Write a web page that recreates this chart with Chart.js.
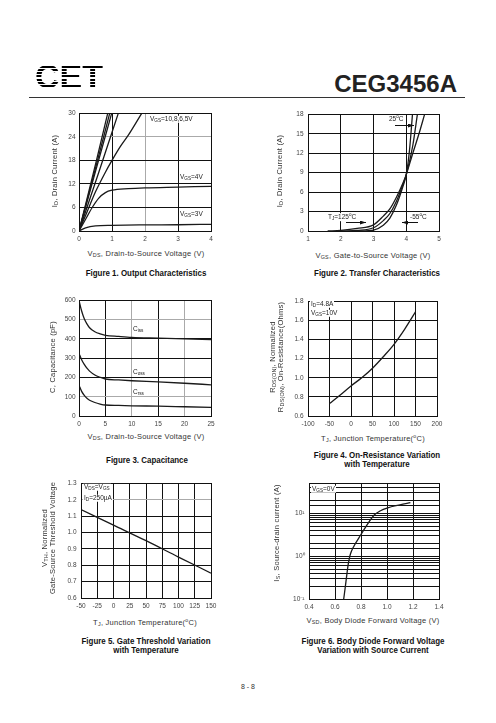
<!DOCTYPE html>
<html>
<head>
<meta charset="utf-8">
<script src="https://cdn.jsdelivr.net/npm/chart.js@4.4.0/dist/chart.umd.min.js"></script>
<style>
body{margin:0;background:#fff;width:496px;height:723px;position:relative;overflow:hidden;font-family:"Liberation Sans",Arial,sans-serif;color:#333}
canvas{position:absolute}
.t{position:absolute;white-space:nowrap;line-height:1;transform:translate(-50%,-50%)}
.ax{font-size:7.5px;letter-spacing:.25px;color:#333}
.yt{transform:translate(-50%,-50%) rotate(-90deg)}
.cap{font-weight:bold;font-size:9px;color:#111;transform:translate(-50%,-50%) scaleX(.88)}
.lb{position:absolute;font-size:6.5px;line-height:1;background:#fff;white-space:nowrap;color:#222;transform:translateY(-50%);padding:0 1px}
sub{font-size:72%;vertical-align:-1px;line-height:0}
#logo{position:absolute;left:35px;top:59px;font:bold 34px/34px "Liberation Sans",Arial,sans-serif;color:transparent;
  background:repeating-linear-gradient(to bottom,#000 0 2px,transparent 2px 3.3px);-webkit-background-clip:text;background-clip:text}
#part{position:absolute;right:39px;top:72px;font:bold 24px/24px "Liberation Sans",Arial,sans-serif;color:#222}
#rule{position:absolute;left:29px;top:97px;width:436px;height:1px;background:#333}
</style>
</head>
<body>
<div id="logo">CET</div>
<div id="part">CEG3456A</div>
<div id="rule"></div>

<canvas id="c1"></canvas>
<canvas id="c2"></canvas>
<canvas id="c3"></canvas>
<canvas id="c4"></canvas>
<canvas id="c5"></canvas>
<canvas id="c6"></canvas>

<!-- figure 1 -->
<div class="t ax yt" style="left:55px;top:171px">I<sub>D</sub>, Drain Current (A)</div>
<div class="t ax" style="left:146px;top:254px">V<sub>DS</sub>, Drain-to-Source Voltage (V)</div>
<div class="t cap" style="left:146px;top:273px">Figure 1. Output Characteristics</div>
<div class="lb" style="left:149px;top:119px">V<sub>GS</sub>=10,8,6,5V</div>
<div class="lb" style="left:179px;top:177px">V<sub>GS</sub>=4V</div>
<div class="lb" style="left:179px;top:214px">V<sub>GS</sub>=3V</div>

<!-- figure 2 -->
<div class="t ax yt" style="left:280px;top:171px">I<sub>D</sub>, Drain Current (A)</div>
<div class="t ax" style="left:373px;top:256px">V<sub>GS</sub>, Gate-to-Source Voltage (V)</div>
<div class="t cap" style="left:377px;top:273px">Figure 2. Transfer Characteristics</div>
<div class="lb" style="left:388px;top:119px">25<sup style="font-size:70%">o</sup>C</div>
<div class="lb" style="left:327px;top:217px">T<sub>J</sub>=125<sup style="font-size:70%">o</sup>C</div>
<div class="lb" style="left:409px;top:217px">-55<sup style="font-size:70%">o</sup>C</div>

<!-- figure 3 -->
<div class="t ax yt" style="left:53px;top:357px">C, Capacitance (pF)</div>
<div class="t ax" style="left:146px;top:437px">V<sub>DS</sub>, Drain-to-Source Voltage (V)</div>
<div class="t cap" style="left:147px;top:460px">Figure 3. Capacitance</div>
<div class="lb" style="left:132px;top:329px;background:none">C<sub>iss</sub></div>
<div class="lb" style="left:132px;top:372px;background:none">C<sub>oss</sub></div>
<div class="lb" style="left:132px;top:392px;background:none">C<sub>rss</sub></div>

<!-- figure 4 -->
<div class="t ax yt" style="left:273px;top:357px">R<sub>DS(ON)</sub>, Normalized</div>
<div class="t ax yt" style="left:281px;top:357px">R<sub>DS(ON)</sub>, On-Resistance(Ohms)</div>
<div class="t ax" style="left:373px;top:438px">T<sub>J</sub>, Junction Temperature(<sup style="font-size:70%">o</sup>C)</div>
<div class="t cap" style="left:377px;top:455px">Figure 4. On-Resistance Variation</div>
<div class="t cap" style="left:377px;top:464px">with Temperature</div>
<div class="lb" style="left:310px;top:304px">I<sub>D</sub>=4.8A</div>
<div class="lb" style="left:310px;top:313px">V<sub>GS</sub>=10V</div>

<!-- figure 5 -->
<div class="t ax yt" style="left:45px;top:538px">V<sub>TH</sub>, Normalized</div>
<div class="t ax yt" style="left:53px;top:538px">Gate-Source Threshold Voltage</div>
<div class="t ax" style="left:145px;top:622px">T<sub>J</sub>, Junction Temperature(<sup style="font-size:70%">o</sup>C)</div>
<div class="t cap" style="left:146px;top:641px">Figure 5. Gate Threshold Variation</div>
<div class="t cap" style="left:146px;top:650px">with Temperature</div>
<div class="lb" style="left:83px;top:487px">V<sub>DS</sub>=V<sub>GS</sub></div>
<div class="lb" style="left:83px;top:498px">I<sub>D</sub>=250µA</div>

<!-- figure 6 -->
<div class="t ax yt" style="left:277px;top:533px">I<sub>S</sub>, Source-drain current (A)</div>
<div class="t ax" style="left:373px;top:621px">V<sub>SD</sub>, Body Diode Forward Voltage (V)</div>
<div class="t cap" style="left:373px;top:641px">Figure 6. Body Diode Forward Voltage</div>
<div class="t cap" style="left:373px;top:650px">Variation with Source Current</div>
<div class="lb" style="left:311px;top:489px">V<sub>GS</sub>=0V</div>

<div class="t" style="left:248px;top:686px;font-size:7px;color:#333">8 - 8</div>

<svg style="position:absolute;left:0;top:0" width="496" height="723">
  <defs><marker id="ah" markerWidth="6" markerHeight="4" refX="6" refY="2" orient="auto" markerUnits="userSpaceOnUse">
    <path d="M0,0 L6,2 L0,4 z" fill="#111"/></marker></defs>
  <line x1="395" y1="125.5" x2="414" y2="125.5" stroke="#111" stroke-width="1" marker-end="url(#ah)"/>
  <line x1="346" y1="222.5" x2="366" y2="222.5" stroke="#111" stroke-width="1" marker-end="url(#ah)"/>
  <line x1="418" y1="222.5" x2="402" y2="222.5" stroke="#111" stroke-width="1" marker-end="url(#ah)"/>
</svg>

<script>
// Figure 1 - output characteristics
var f1aX = [0, 0.5, 0.87], f1aY = [0, 17, 30];
var f1bX = [0, 0.5, 0.93], f1bY = [0, 16, 30];
var f1cX = [0, 0.5, 0.99], f1cY = [0, 15.2, 30];
var f1dX = [0, 0.6, 1.19], f1dY = [0, 15, 30];
var f15vX = [0, 0.25, 0.5, 0.8, 1.0, 1.25, 1.5, 1.9], f15vY = [0, 5, 10, 15, 18, 21.5, 24.5, 30];
var f14vX = [0, 0.2, 0.4, 0.6, 0.8, 1.0, 1.5, 2, 3, 4], f14vY = [0, 3, 6, 8.4, 9.8, 10.4, 10.8, 11, 11.2, 11.4];
var f13vX = [0, 0.2, 0.5, 1, 2, 3, 4], f13vY = [0, 0.8, 1.3, 1.45, 1.55, 1.6, 1.7];

// Figure 2 - transfer characteristics
var f2m55X = [2.5, 3.0, 3.3, 3.5, 3.7, 3.9, 4.0, 4.1, 4.19], f2m55Y = [0, 0.15, 0.9, 2.0, 4.0, 6.9, 8.7, 12.5, 18];
var f225X = [2.0, 2.5, 3.0, 3.3, 3.5, 3.7, 3.9, 4.0, 4.2, 4.34], f225Y = [0, 0.1, 0.5, 1.6, 2.7, 4.6, 7.2, 8.7, 13.2, 18];
var f2125X = [1.6, 2.0, 2.5, 3.0, 3.3, 3.5, 3.7, 3.9, 4.0, 4.2, 4.4, 4.56], f2125Y = [0, 0.1, 0.4, 0.95, 2.3, 3.4, 5.2, 7.4, 8.7, 12, 15.2, 18];

// Figure 3 - capacitance
var f3X = [0, 0.5, 1, 1.5, 2, 3, 4, 5, 7.5, 10, 15, 20, 25];
var cissY = [600, 545, 505, 478, 458, 437, 426, 419, 413, 408, 404, 400, 397];
var cossY = [325, 292, 268, 248, 233, 213, 201, 192, 187, 183, 177, 170, 162];
var crssY = [160, 128, 107, 92, 82, 70, 62, 57, 55, 53, 51, 48, 45];

// Figure 4 - on-resistance vs temperature
var f4X = [-50, -25, 0, 25, 50, 75, 100, 125, 150];
var f4Y = [0.73, 0.82, 0.915, 1.0, 1.1, 1.22, 1.35, 1.51, 1.69];

// Figure 5 - gate threshold vs temperature
var f5X = [-50, 0, 50, 100, 150];
var f5Y = [1.14, 1.045, 0.95, 0.85, 0.752];

// Figure 6 - body diode forward voltage
var f6X = [0.667, 0.68, 0.69, 0.70, 0.71, 0.72, 0.74, 0.8, 0.85, 0.9, 0.95, 1.0, 1.1, 1.18];
var f6Y = [0.1, 0.2, 0.35, 0.6, 0.88, 1.15, 1.6, 3.2, 5.6, 9.0, 11.5, 13.3, 15.8, 17.7];

// grid lines that came out light grey in the print
var f1GreyX = [2], f1GreyY = [24];
var f3GreyX = [10, 20], f3GreyY = [100, 500];
var f5GreyY = [1.2];

var tickFont = { size: 6.5, family: 'Liberation Sans' };
var ink = '#1a1a1a';

function pts(xs, ys) {
  return xs.map(function (x, i) { return { x: x, y: ys[i] }; });
}
function line(xs, ys) {
  return { data: pts(xs, ys), showLine: true, borderColor: ink, borderWidth: 1.3,
    pointRadius: 0, fill: false, cubicInterpolationMode: 'monotone' };
}

var frame = {
  id: 'frame',
  afterDraw: function (c) {
    var a = c.chartArea, g = c.ctx;
    g.save();
    g.strokeStyle = '#111';
    g.lineWidth = 1;
    g.strokeRect(Math.round(a.left) + 0.5, Math.round(a.top) + 0.5, Math.round(a.width), Math.round(a.height));
    g.restore();
  }
};

// box = plot area left, top, width, height on the page
function plot(id, box, xScale, yScale, sets) {
  var padL = 28, padT = 6, padR = 10, padB = 14;
  var cv = document.getElementById(id);
  cv.width = padL + box[2] + padR;
  cv.height = padT + box[3] + padB;
  cv.style.left = (box[0] - padL) + 'px';
  cv.style.top = (box[1] - padT) + 'px';
  xScale.afterFit = function (s) { s.height = padB; };
  yScale.afterFit = function (s) { s.width = padL; };
  new Chart(cv, {
    type: 'scatter',
    data: { datasets: sets },
    options: {
      responsive: false, animation: false, events: [],
      layout: { padding: { top: padT, right: padR, left: 0, bottom: 0 } },
      plugins: { legend: { display: false }, tooltip: { enabled: false } },
      scales: { x: xScale, y: yScale }
    },
    plugins: [frame]
  });
}

function lin(min, max, step, pad, grey) {
  grey = grey || [];
  return {
    type: 'linear', min: min, max: max,
    ticks: { stepSize: step, color: '#444', font: tickFont, padding: pad || 4,
      autoSkip: false, maxRotation: 0, minRotation: 0 },
    grid: {
      color: function (ctx) {
        var v = ctx.tick ? ctx.tick.value : null;
        return grey.some(function (g) { return Math.abs(g - v) < 1e-9; }) ? '#aaa' : '#111';
      },
      lineWidth: 1, drawTicks: false
    },
    border: { color: '#111' }
  };
}

plot('c1', [79, 112, 132, 119], lin(0, 4, 1, 4, f1GreyX), lin(0, 30, 6, 3.5, f1GreyY), [
  line(f1aX, f1aY), line(f1bX, f1bY), line(f1cX, f1cY), line(f1dX, f1dY),
  line(f15vX, f15vY), line(f14vX, f14vY), line(f13vX, f13vY)
]);

plot('c2', [308, 112, 131, 119], lin(1, 5, 1), lin(0, 18, 3, 4.5), [
  line(f2m55X, f2m55Y), line(f225X, f225Y), line(f2125X, f2125Y)
]);

plot('c3', [79, 299, 132, 117], lin(0, 25, 5, 4, f3GreyX), lin(0, 600, 100, 3.5, f3GreyY), [
  line(f3X, cissY), line(f3X, cossY), line(f3X, crssY)
]);

plot('c4', [308, 299, 129, 117], lin(-100, 200, 50), lin(0.6, 1.8, 0.2, 4.5), [
  line(f4X, f4Y)
]);

var y5 = lin(0.6, 1.3, 0.1, 4.5, f5GreyY);
y5.ticks.callback = function (v) { return v.toFixed(1); };
plot('c5', [81, 481, 130, 117], lin(-50, 150, 25), y5, [
  line(f5X, f5Y)
]);

var x6 = lin(0.4, 1.4, 0.2);
x6.ticks.callback = function (v) { return v.toFixed(1); };
var y6 = {
  type: 'logarithmic', min: 0.1, max: 50,
  ticks: {
    color: '#444', font: tickFont, padding: 4.5, autoSkip: false,
    callback: function (v) {
      var l = Math.log10(v), r = Math.round(l);
      if (Math.abs(l - r) > 1e-6) return '';
      return '10' + (r < 0 ? '\u207B\u00B9' : r === 0 ? '\u2070' : '\u00B9');
    }
  },
  grid: { color: '#111', lineWidth: 1, drawTicks: false },
  border: { color: '#111' }
};
plot('c6', [309, 481, 130, 118], x6, y6, [
  line(f6X, f6Y)
]);
</script>
</body>
</html>
